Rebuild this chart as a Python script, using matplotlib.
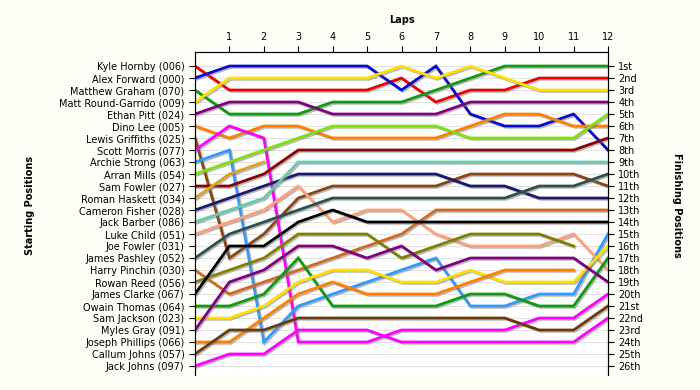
import matplotlib
matplotlib.use("Agg")
import matplotlib.pyplot as plt
import matplotlib.patheffects as pe

# starting grid, top to bottom
starters = ["Kyle Hornby (006)", "Alex Forward (000)", "Matthew Graham (070)",
            "Matt Round-Garrido (009)", "Ethan Pitt (024)", "Dino Lee (005)",
            "Lewis Griffiths (025)", "Scott Morris (077)", "Archie Strong (063)",
            "Arran Mills (054)", "Sam Fowler (027)", "Roman Haskett (034)",
            "Cameron Fisher (028)", "Jack Barber (086)", "Luke Child (051)",
            "Joe Fowler (031)", "James Pashley (052)", "Harry Pinchin (030)",
            "Rowan Reed (056)", "James Clarke (067)", "Owain Thomas (064)",
            "Sam Jackson (023)", "Myles Gray (091)", "Joseph Phillips (066)",
            "Callum Johns (057)", "Jack Johns (097)"]

finish_labels = ["1st", "2nd", "3rd"] + [f"{i}th" for i in range(4, 21)] + \
                ["21st", "22nd", "23rd", "24th", "25th", "26th"]

laps = list(range(0, 13))

# position at each lap (index 0 = grid), shorter lists = retired
hornby        = [1, 3, 3, 3, 3, 3, 2, 4, 3, 3, 2, 2, 2]
forward       = [2, 1, 1, 1, 1, 1, 3, 1, 5, 6, 6, 5, 8]
graham        = [3, 5, 5, 5, 4, 4, 4, 3, 2, 1, 1, 1, 1]
round_garrido = [4, 2, 2, 2, 2, 2, 1, 2, 1, 2, 3, 3, 3]
pitt          = [5, 4, 4, 4, 5, 5, 5, 5, 4, 4, 4, 4, 4]
lee           = [6, 7, 6, 6, 7, 7, 7, 7, 6, 5, 5, 6, 6]
griffiths     = [7, 17, 15, 12, 11, 11, 11, 11, 10, 10, 10, 10, 11]
morris        = [8, 6, 7, 24, 24, 24, 23, 23, 23, 23, 22, 22, 20]
strong        = [9, 8, 24, 21, 20, 19, 18, 17, 21, 21, 20, 20, 15]
mills         = [10, 9, 8, 7, 6, 6, 6, 6, 7, 7, 7, 7, 5]
s_fowler      = [11, 11, 10, 8, 8, 8, 8, 8, 8, 8, 8, 8, 7]
haskett       = [12, 10, 9]
fisher        = [13, 12, 11, 10, 10, 10, 10, 10, 11, 11, 12, 12, 12]
barber        = [14, 13, 12, 9, 9, 9, 9, 9, 9, 9, 9, 9, 9]
child         = [15, 14, 13, 11, 14, 13, 13, 15, 16, 16, 16, 15, 18]
j_fowler      = [16]
pashley       = [17, 15, 14, 13, 12, 12, 12, 12, 12, 12, 11, 11, 10]
pinchin       = [18, 20, 19, 18, 17, 16, 15, 13, 13, 13, 13, 13, 13]
reed          = [19, 18, 17, 15, 15, 15, 17, 16, 15, 15, 15, 16]
clarke        = [20, 16, 16, 14, 13, 14, 14, 14, 14, 14, 14, 14, 14]
thomas        = [21, 21, 20, 17, 21, 21, 21, 21, 20, 20, 21, 21, 17]
jackson       = [22, 22, 21, 19, 18, 18, 19, 19, 18, 19, 19, 19, 16]
gray          = [23, 19, 18, 16, 16, 17, 16, 18, 17, 17, 17, 17, 19]
phillips      = [24, 24, 22, 20, 19, 20, 20, 20, 19, 18, 18, 18]
c_johns       = [25, 23, 23, 22, 22, 22, 22, 22, 22, 22, 23, 23, 21]
j_johns       = [26, 25, 25, 23, 23, 23, 24, 24, 24, 24, 24, 24, 22]

drivers = [hornby, forward, graham, round_garrido, pitt, lee, griffiths, morris,
           strong, mills, s_fowler, haskett, fisher, barber, child, j_fowler,
           pashley, pinchin, reed, clarke, thomas, jackson, gray, phillips,
           c_johns, j_johns]

colors = ["#ee0000", "#0a0ad0", "#119911", "#ffe000", "#800080", "#ff8000",
          "#8b4513", "#ff00ff", "#3399ff", "#80e010", "#8b0000", "#daa520",
          "#191970", "#66cdaa", "#ffa07a", "#555555", "#2f4f4f", "#d2691e",
          "#808000", "#000000", "#119911", "#ffe000", "#800080", "#ff8000",
          "#6b3a0a", "#ff00ff"]

fig = plt.figure(figsize=(7, 3.9), dpi=100)
fig.patch.set_facecolor("#fffff8")
ax = fig.add_axes([195/700, 15/390, 413/700, 323/390])
ax.set_facecolor("white")

shadow = [pe.SimpleLineShadow(offset=(1.0, -1.0), shadow_color="#777777", alpha=0.5),
          pe.Normal()]

for pos, col in zip(drivers, colors):
    ax.plot(laps[:len(pos)], pos, color=col, lw=2.0, solid_joinstyle="miter",
            path_effects=shadow, zorder=3)

ax.set_xlim(0, 12)
ax.set_ylim(26.75, -0.17)

ax.xaxis.tick_top()
ax.set_xticks(laps[1:])
ax.set_xticklabels([str(l) for l in laps[1:]], fontsize=7)
ax.set_title("Laps", fontsize=7, fontweight="bold", pad=21)

ax.set_yticks(range(1, 27))
ax.set_yticklabels(starters, fontsize=7)
ax.tick_params(direction="out", length=4, color="black")

ax2 = ax.twinx()
ax2.set_ylim(ax.get_ylim())
ax2.set_yticks(range(1, 27))
ax2.set_yticklabels(finish_labels, fontsize=7)
ax2.tick_params(direction="out", length=4)

ax.set_xticks(laps, minor=True)
ax.grid(True, which="minor", axis="x", color="#e2e2e2", lw=0.8, zorder=0)
ax.grid(True, which="major", axis="y", color="#e2e2e2", lw=0.8, zorder=0)
ax.tick_params(which="minor", length=0)

for a in (ax, ax2):
    a.spines["bottom"].set_visible(False)
    for s in ("left", "top", "right"):
        a.spines[s].set_color("black")

fig.text(30/700, 1 - 205/390, "Starting Positions", rotation=90, fontsize=7,
         fontweight="bold", ha="center", va="center")
fig.text(677/700, 1 - 205/390, "Finishing Positions", rotation=270, fontsize=7,
         fontweight="bold", ha="center", va="center")

fig.savefig("out.png", dpi=100, facecolor=fig.get_facecolor())
